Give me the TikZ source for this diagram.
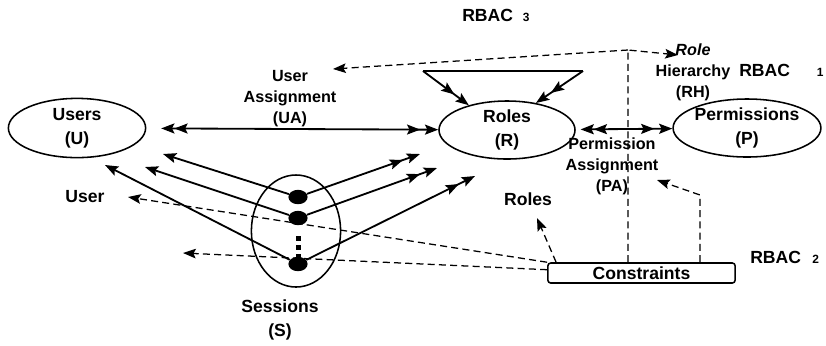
\documentclass[tikz,border=0pt]{standalone}
\usepackage{fontspec}
\setmainfont{Liberation Sans}
\usetikzlibrary{arrows.meta,calc,shapes.geometric}
\tikzset{
  set/.style={ellipse,draw=black,line width=1.1pt,inner sep=0pt,align=center,
    font={\fontsize{12.5}{17}\selectfont\bfseries}},
  dot/.style={ellipse,fill=black,inner sep=0pt,minimum width=0.48cm,
    minimum height=0.36cm},
  box/.style={draw=black,rounded corners=2pt,line width=1.1pt,inner sep=0pt,
    minimum width=4.68cm,minimum height=0.5cm,
    font={\fontsize{12.5}{14}\selectfont\bfseries}},
  lbl/.style={align=center,inner sep=0pt,
    font={\fontsize{12.5}{17}\selectfont\bfseries}},
  smlbl/.style={align=center,inner sep=0pt,
    font={\fontsize{11.5}{15}\selectfont\bfseries}},
  rel/.style={line width=1.3pt},
  one/.style={rel,-{Stealth[length=3.3mm,width=2.5mm,inset=0.6mm]}},
  many/.style={rel,-{Stealth[length=3.3mm,width=2.5mm,inset=0.6mm,sep=1.2mm]
    Stealth[length=3.3mm,width=2.5mm,inset=0.6mm]}},
  manyboth/.style={rel,{Stealth[length=3.3mm,width=2.5mm,inset=0.6mm,sep=1.2mm]
    Stealth[length=3.3mm,width=2.5mm,inset=0.6mm]}-{Stealth[length=3.3mm,
    width=2.5mm,inset=0.6mm,sep=1.2mm]Stealth[length=3.3mm,width=2.5mm,inset=0.6mm]}},
  dep/.style={line width=0.9pt,dash pattern=on 5pt off 3pt},
  deparr/.style={dep,-{Stealth[length=3.2mm,width=2.4mm,inset=0.6mm]}},
}

\begin{document}
\begin{tikzpicture}[x=0.025cm,y=-0.025cm]
  \useasboundingbox (0,0) rectangle (826,345);

  \node[set,minimum width=3.43cm,minimum height=1.48cm] (users) at (77,128) {Users\\(U)};
  \node[set,minimum width=3.4cm,minimum height=1.45cm] (roles) at (507,130) {Roles\\(R)};
  \node[set,minimum width=3.5cm,minimum height=1.45cm] (perms) at (747,128) {Permissions\\(P)};
  \node[set,minimum width=2.23cm,minimum height=2.8cm] (sess) at (296,231) {};

  \node[dot] (s1) at (298,197) {};
  \node[dot] (s2) at (298,218) {};
  \node[dot] (s3) at (298,264) {};
  \foreach \y in {238,247,256}
    \fill (295.5,\y-2.5) rectangle ++(5,5);

  \node[smlbl] (ua) at (290,99) {User\\Assignment\\(UA)};
  \node[smlbl] (pa) at (612,166) {Permission\\Assignment\\(PA)};
  \node[smlbl] (rh) at (693,72) {\textit{Role}\\Hierarchy\\(RH)};
  \node[lbl] (userlbl) at (85,197) {User};
  \node[lbl] (rolelbl) at (528,199) {Roles};
  \node[lbl] (sesslbl) at (280,320) {Sessions\\(S)};
  \node[lbl,anchor=west] (rbac3) at (462,15) {RBAC\hspace{7pt}{\fontsize{8.5}{9}\selectfont 3}};
  \node[lbl,anchor=west] (rbac1) at (739,70) {RBAC\hspace{19pt}{\fontsize{8.5}{9}\selectfont 1}};
  \node[lbl,anchor=west] (rbac2) at (750,257) {RBAC\hspace{8pt}{\fontsize{8.5}{9}\selectfont 2}};

  \node[box] (cons) at (641.5,273) {Constraints};

  \draw[manyboth,shorten <=2.5mm] (users) -- (roles);
  \draw[manyboth] (roles) -- (perms);

  \coordinate (tl) at (423,71);
  \coordinate (tr) at (583,71);
  \draw[rel] (tl) -- (tr);
  \draw[many] (tl) -- (roles.147);
  \draw[many] (tr) -- (roles.43);

  \coordinate (u1) at (163,154);
  \coordinate (u2) at (145,167);
  \coordinate (u3) at (105,165);
  \coordinate (r1) at (420,154);
  \coordinate (r2) at (437,168);
  \coordinate (r3) at (475,176);
  \draw[one] (s1) -- (u1);
  \draw[one] (s2) -- (u2);
  \draw[one] (s3) -- (u3);
  \draw[many] (s1) -- (r1);
  \draw[many] (s2) -- (r2);
  \draw[many] (s3) -- (r3);

  \coordinate (apex) at (628,50);
  \coordinate (uatip) at (333,69);
  \coordinate (rhtip) at (678,55);
  \coordinate (usertip) at (128,197);
  \coordinate (sesstip) at (183,253);
  \coordinate (roletip) at (537,218);
  \coordinate (pbend) at (700,195);
  \coordinate (patip) at (657,180);
  \draw[deparr] (cons.north -| apex) -- (apex) -- (rhtip);
  \draw[deparr] (apex) -- (uatip);
  \draw[deparr] (cons.north west) -- (usertip);
  \draw[deparr] (cons.178) -- (sesstip);
  \draw[deparr] ([xshift=0.225cm]cons.north west) -- (roletip);
  \draw[deparr] (cons.north -| pbend) -- (pbend) -- (patip);
\end{tikzpicture}
\end{document}
